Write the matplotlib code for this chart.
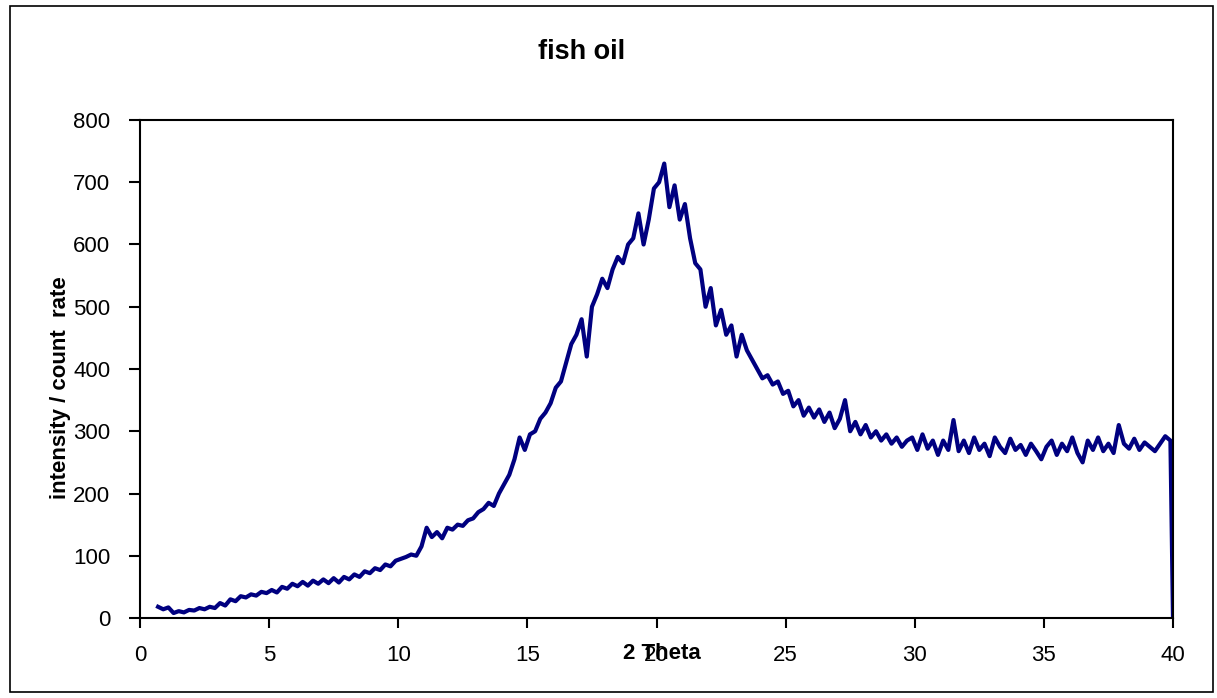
import numpy as np
import matplotlib
matplotlib.use("Agg")
import matplotlib.pyplot as plt
from matplotlib.patches import Rectangle

plt.rcParams['font.family'] = ['Liberation Sans', 'DejaVu Sans']

title = "fish oil"
x_label = "2 Theta"
y_label = "intensity / count  rate"
x_ticks = [0, 5, 10, 15, 20, 25, 30, 35, 40]
y_ticks = [0, 100, 200, 300, 400, 500, 600, 700, 800]

# sample positions (2 theta, step 0.2) and readings
two_theta = list(np.round(np.arange(0.7, 39.95, 0.2), 1)) + [40.0]
intensity = [
    18, 14, 17, 8, 11, 9, 13, 12, 16, 14,
    18, 16, 24, 20, 30, 27, 35, 33, 38, 36,
    42, 40, 45, 41, 50, 47, 55, 51, 58, 52,
    60, 55, 62, 56, 64, 57, 66, 62, 70, 66,
    75, 72, 80, 77, 86, 83, 92, 95, 98, 102,
    100, 115, 145, 130, 138, 128, 145, 142, 150, 148,
    157, 160, 170, 175, 185, 180, 200, 215, 230, 255,
    290, 270, 295, 300, 320, 330, 345, 370, 380, 410,
    440, 455, 480, 420, 500, 520, 545, 530, 560, 580,
    570, 600, 610, 650, 600, 640, 690, 700, 730, 660,
    695, 640, 665, 610, 570, 560, 500, 530, 470, 495,
    455, 470, 420, 455, 430, 415, 400, 385, 390, 375,
    380, 360, 365, 340, 350, 325, 338, 322, 335, 315,
    330, 305, 320, 350, 300, 315, 295, 310, 290, 300,
    285, 295, 280, 290, 275, 285, 290, 270, 295, 272,
    285, 262, 285, 270, 318, 268, 285, 265, 290, 270,
    280, 260, 290, 275, 265, 288, 270, 278, 262, 280,
    268, 255, 275, 285, 262, 280, 268, 290, 265, 250,
    285, 270, 290, 268, 280, 265, 310, 280, 272, 288,
    270, 282, 275, 268, 280, 292, 285, 0,
]
n = min(len(two_theta), len(intensity))
two_theta = two_theta[:n]
intensity = intensity[:n]

W, H = 1217, 698
fig = plt.figure(figsize=(W / 100, H / 100), dpi=100)
fig.patch.set_facecolor('white')
fig.add_artist(Rectangle((10 / W, 6 / H), 1203 / W, 686 / H, transform=fig.transFigure,
                         fill=False, edgecolor='black', linewidth=1.2))

ax = fig.add_axes([140 / W, 1 - 618 / H, 1033 / W, 498 / H])
ax.plot(two_theta, intensity, color='#000080', linewidth=3.0, solid_joinstyle='round')
ax.set_xlim(0, 40)
ax.set_ylim(0, 800)
ax.set_xticks(x_ticks)
ax.set_yticks(y_ticks)
ax.tick_params(axis='x', direction='out', length=7, width=1.5, labelsize=16, pad=12.5, color='black')
ax.tick_params(axis='y', direction='out', length=8, width=1.5, labelsize=16, pad=13.5, color='black')
for s in ax.spines.values():
    s.set_linewidth(1.5)
    s.set_color('black')

ax.set_xlabel(x_label, fontsize=16, fontweight='bold')
ax.xaxis.set_label_coords(0.505, -0.071)
ax.xaxis.label.set_va('center')
ax.set_ylabel(y_label, fontsize=16, fontweight='bold')
ax.yaxis.set_label_coords(-0.077, 0.463)
ax.yaxis.label.set_va('center')

fig.text(582 / W, 1 - 52 / H, title, fontsize=19.5, fontweight='bold', ha='center', va='center')

fig.savefig('out.png', dpi=100)
